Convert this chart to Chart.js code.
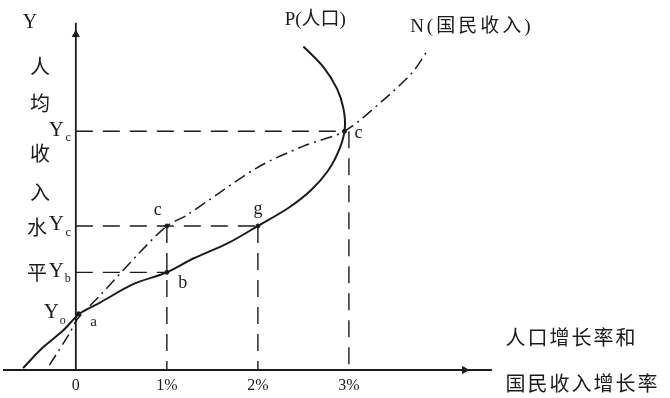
<!DOCTYPE html>
<html lang="zh">
<head>
  <meta charset="UTF-8" />
  <title>人口增长率和国民收入增长率</title>
  <script src="https://cdn.jsdelivr.net/npm/chart.js"></script>
  <style>
    body { margin: 0; background: #fff; }
    .wrap { width: 670px; height: 398px; position: relative; }
  </style>
</head>
<body>
  <div class="wrap"><canvas id="chart"></canvas></div>

  <script>
    // Ticks on the growth-rate axis (%)
    const xTicks = [0, 1, 2, 3];
    const xTickLabels = ['0', '1%', '2%', '3%'];

    // Income levels marked on the vertical axis
    const yLevels = [5.7, 9.9, 14.6, 24.2];
    const yLevelSubs = ['o', 'b', 'c', 'c'];

    // P (人口) curve
    const pX = [-0.58, -0.36, -0.14, 0.04, 0.26, 0.63, 1.0, 1.29, 1.66, 2.0, 2.33, 2.58, 2.77, 2.9, 2.955, 2.94, 2.87, 2.72, 2.5];
    const pY = [0.2, 2.3, 4.0, 5.7, 6.8, 8.7, 9.9, 11.3, 12.8, 14.6, 16.4, 18.2, 20.2, 22.5, 24.5, 26.5, 28.5, 30.7, 32.8];

    // N (国民收入) curve
    const nX = [-0.29, -0.07, 0.02, 0.26, 0.68, 1.0, 1.22, 1.99, 2.5, 2.95, 3.37, 3.7, 3.87];
    const nY = [0.5, 3.7, 5.2, 7.5, 11.7, 14.6, 15.7, 20.5, 22.7, 24.2, 27.3, 30.2, 32.5];

    // Named points
    const ptNames = ['a', 'b', 'c', 'g', 'c'];
    const ptX = [0.03, 1.0, 1.0, 2.0, 2.95];
    const ptY = [5.7, 9.9, 14.6, 14.6, 24.2];

    const axisTitleY = '人均收入水平';
    const axisTitleX = ['人口增长率和', '国民收入增长率'];
    const curveNames = ['P(人口)', 'N(国民收入)'];

    const toXY = (xs, ys) => xs.map((v, i) => ({ x: v, y: ys[i] }));

    // dashed guides: horizontal to b, g, top c ; vertical from mid c, g, top c
    const guides = [];
    [1, 3, 4].forEach(i => guides.push([{ x: 0, y: ptY[i] }, { x: ptX[i], y: ptY[i] }]));
    [2, 3].forEach(i => guides.push([{ x: ptX[i], y: ptY[i] }, { x: ptX[i], y: 0 }]));
    guides.push([{ x: 3, y: ptY[4] }, { x: 3, y: 0 }]);

    const ink = '#1b1b1b';
    const datasets = [];

    guides.forEach(seg => datasets.push({
      data: seg, showLine: true, borderColor: ink, borderWidth: 1.4,
      borderDash: [17, 10], pointRadius: 0, clip: false
    }));

    // axes
    datasets.push({
      data: [{ x: 0, y: 0 }, { x: 0, y: 35.2 }], showLine: true,
      borderColor: ink, borderWidth: 1.8, pointRadius: 0, clip: false
    });
    datasets.push({
      data: [{ x: -0.8, y: 0 }, { x: 4.57, y: 0 }], showLine: true,
      borderColor: ink, borderWidth: 1.8, pointRadius: 0, clip: false
    });
    datasets.push({
      data: [{ x: 0, y: 34.0 }], pointStyle: 'triangle', pointRadius: 4,
      rotation: 0, backgroundColor: ink, borderColor: ink, clip: false
    });
    datasets.push({
      data: [{ x: 4.27, y: 0 }], pointStyle: 'triangle', pointRadius: 4,
      rotation: 90, backgroundColor: ink, borderColor: ink, clip: false
    });

    // curves
    datasets.push({
      label: curveNames[0], data: toXY(pX, pY), showLine: true, tension: 0.3,
      borderColor: ink, borderWidth: 2, pointRadius: 0, clip: false
    });
    datasets.push({
      label: curveNames[1], data: toXY(nX, nY), showLine: true, tension: 0.3,
      borderColor: ink, borderWidth: 1.5, borderDash: [12, 5, 2, 5],
      pointRadius: 0, clip: false
    });
    datasets.push({
      data: toXY(ptX, ptY), pointRadius: 2, backgroundColor: ink,
      borderColor: ink, clip: false
    });

    const serif = '"Liberation Serif", "DejaVu Serif", serif';
    const cjk = '"Noto Sans CJK SC", sans-serif';
    const mixed = '"Liberation Serif", "Noto Sans CJK SC", serif';

    const textPlugin = {
      id: 'texts',
      afterDatasetsDraw(chart) {
        const { ctx, scales: { x, y } } = chart;
        ctx.save();
        ctx.fillStyle = ink;
        ctx.textBaseline = 'middle';

        // curve names
        ctx.textAlign = 'center';
        ctx.font = '19px ' + mixed;
        ctx.fillText(curveNames[0], x.getPixelForValue(2.63), y.getPixelForValue(35.5));
        ctx.letterSpacing = '3px';
        ctx.fillText(curveNames[1], x.getPixelForValue(4.35), y.getPixelForValue(34.8));
        ctx.letterSpacing = '0px';

        // point letters
        const offs = [[15, 8], [16, 11], [-9, -16], [0, -17], [14, 2]];
        ptNames.forEach((t, i) => {
          ctx.font = (i === 0 ? '15px ' : '18px ') + serif;
          ctx.fillText(t, x.getPixelForValue(ptX[i]) + offs[i][0], y.getPixelForValue(ptY[i]) + offs[i][1]);
        });

        // Y level labels
        ctx.textAlign = 'right';
        yLevels.forEach((v, i) => {
          const py = y.getPixelForValue(v);
          const right = x.getPixelForValue(0) - (i === 0 ? 10 : 5);
          ctx.font = '12px ' + serif;
          ctx.fillText(yLevelSubs[i], right, py + 7);
          ctx.font = '21px ' + serif;
          ctx.fillText('Y', right - 7, py - 1);
        });

        // vertical axis title
        ctx.textAlign = 'center';
        ctx.font = '20px ' + serif;
        ctx.fillText('Y', 30, y.getPixelForValue(35.2));
        const titleY = [30.8, 27, 22, 18, 14.5, 9.9];
        ctx.font = '20px ' + cjk;
        [...axisTitleY].forEach((ch, i) => {
          ctx.fillText(ch, i < 4 ? 40 : 37, y.getPixelForValue(titleY[i]));
        });

        // horizontal axis title
        ctx.textAlign = 'left';
        ctx.font = '20px ' + cjk;
        ctx.letterSpacing = '2px';
        ctx.fillText(axisTitleX[0], x.getPixelForValue(4.72), y.getPixelForValue(3.3));
        ctx.fillText(axisTitleX[1], x.getPixelForValue(4.72), y.getPixelForValue(-1.4));
        ctx.restore();
      }
    };

    new Chart(document.getElementById('chart'), {
      type: 'scatter',
      data: { datasets },
      plugins: [textPlugin],
      options: {
        responsive: true,
        maintainAspectRatio: false,
        animation: false,
        layout: { padding: 0 },
        plugins: { legend: { display: false }, tooltip: { enabled: false } },
        scales: {
          x: {
            type: 'linear', min: -0.778, max: 6.472,
            grid: { display: false, drawTicks: false }, border: { display: false },
            afterBuildTicks: s => { s.ticks = xTicks.map(v => ({ value: v })); },
            afterFit: s => { s.height = 28; s.paddingLeft = 0; s.paddingRight = 0; },
            ticks: {
              padding: 6, color: ink, maxRotation: 0,
              font: { family: serif, size: 16 },
              callback: v => xTickLabels[xTicks.indexOf(v)]
            }
          },
          y: { type: 'linear', min: 0, max: 37, display: false }
        }
      }
    });
  </script>
</body>
</html>
